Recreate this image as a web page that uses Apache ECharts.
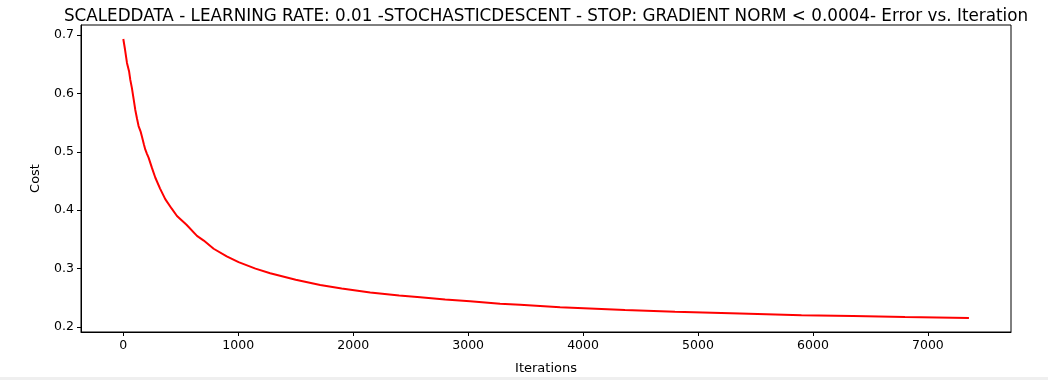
<!DOCTYPE html>
<html>
<head>
<meta charset="utf-8">
<script src="https://cdn.jsdelivr.net/npm/echarts@6/dist/echarts.min.js"></script>
<style>
html,body{margin:0;padding:0;background:#fff;}
#chart{width:1048px;height:380px;}
</style>
</head>
<body>
<div id="chart"></div>
<script>
var iterations = [0, 15, 32, 50, 61, 75, 90, 104, 120, 133, 150, 162, 180, 191, 205, 220, 250, 278, 320, 365, 420, 467, 550, 641, 700, 786, 900, 1003, 1150, 1278, 1500, 1713, 1900, 2148, 2400, 2583, 2800, 3017, 3278, 3452, 3800, 4365, 4800, 5365, 5900, 6348, 6800, 7357];
var cost = [0.693, 0.675, 0.652, 0.638, 0.623, 0.609, 0.590, 0.572, 0.556, 0.544, 0.535, 0.526, 0.512, 0.504, 0.497, 0.490, 0.472, 0.456, 0.437, 0.419, 0.403, 0.390, 0.375, 0.356, 0.348, 0.334, 0.321, 0.311, 0.300, 0.292, 0.281, 0.272, 0.266, 0.259, 0.254, 0.251, 0.247, 0.244, 0.240, 0.238, 0.234, 0.229, 0.226, 0.223, 0.220, 0.219, 0.217, 0.2155];
var xTicks = [0, 1000, 2000, 3000, 4000, 5000, 6000, 7000];
var yTicks = [0.2, 0.3, 0.4, 0.5, 0.6, 0.7];
var titleText = 'SCALEDDATA - LEARNING RATE: 0.01 -STOCHASTICDESCENT - STOP: GRADIENT NORM < 0.0004- Error vs. Iteration';

var points = iterations.map(function (v, i) { return [v, cost[i]]; });
var font = 'DejaVu Sans';
var chart = echarts.init(document.getElementById('chart'), null, {renderer: 'canvas'});
chart.setOption({
  animation: false,
  backgroundColor: '#fff',
  title: {
    text: titleText,
    left: 541,
    top: 3,
    textAlign: 'center',
    textStyle: {fontFamily: font, fontSize: 16.8, fontWeight: 'normal', color: '#000'}
  },
  grid: {left: 81, right: 37, top: 25, bottom: 48, show: true, borderColor: '#000', borderWidth: 1, backgroundColor: '#fff'},
  xAxis: {
    type: 'value',
    min: -368,
    max: 7723,
    name: 'Iterations',
    nameLocation: 'middle',
    nameGap: 30,
    nameTextStyle: {fontFamily: font, fontSize: 13, color: '#000'},
    axisLine: {show: true, onZero: false, lineStyle: {color: '#000', width: 1}},
    axisTick: {show: true, length: 4, inside: false, customValues: xTicks, lineStyle: {color: '#000'}},
    axisLabel: {customValues: xTicks, fontFamily: font, fontSize: 12.5, color: '#000', margin: 7,
      formatter: function (v) { return String(Math.round(v)); }},
    splitLine: {show: false}
  },
  yAxis: {
    type: 'value',
    min: 0.1915,
    max: 0.717,
    name: 'Cost',
    nameLocation: 'middle',
    nameGap: 39,
    nameRotate: 90,
    nameTextStyle: {fontFamily: font, fontSize: 13, color: '#000'},
    axisLine: {show: true, onZero: false, lineStyle: {color: '#000', width: 1}},
    axisTick: {show: true, length: 4, inside: false, customValues: yTicks, lineStyle: {color: '#000'}},
    axisLabel: {customValues: yTicks, fontFamily: font, fontSize: 12.5, color: '#000', margin: 7,
      formatter: function (v) { return v.toFixed(1); }},
    splitLine: {show: false}
  },
  series: [{
    type: 'line',
    data: points,
    showSymbol: false,
    symbol: 'none',
    lineStyle: {color: '#ff0000', width: 2},
    itemStyle: {color: '#ff0000'}
  }],
  graphic: [{
    type: 'rect',
    left: 0,
    top: 377,
    shape: {width: 1048, height: 3},
    style: {fill: '#efefef'},
    silent: true
  }]
});
</script>
</body>
</html>
